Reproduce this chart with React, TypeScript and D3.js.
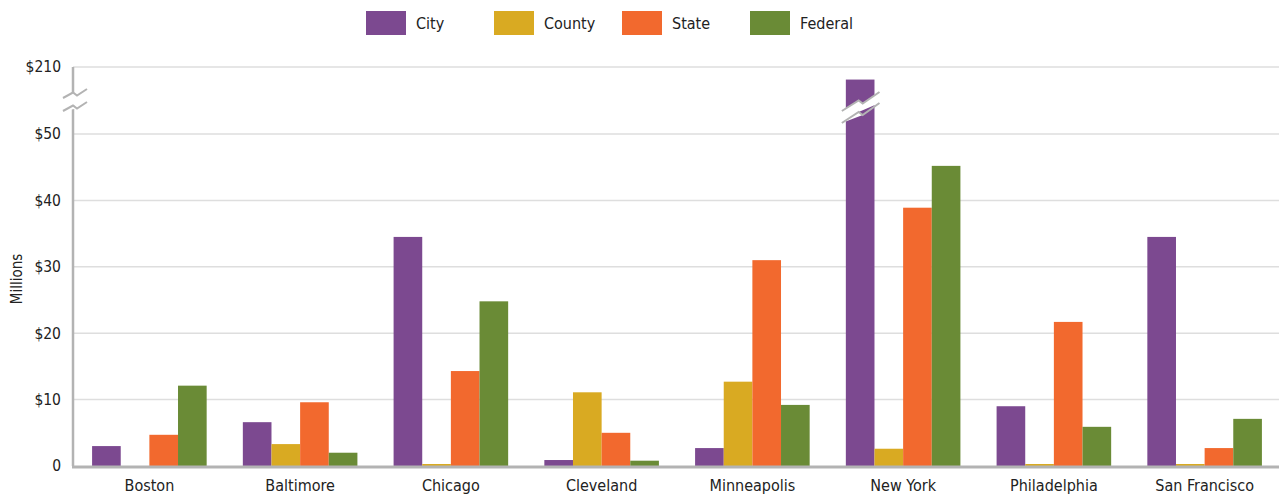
import React from "react";
import * as d3 from "d3";

const cities = ["Boston", "Baltimore", "Chicago", "Cleveland", "Minneapolis", "New York", "Philadelphia", "San Francisco"];
const seriesNames = ["City", "County", "State", "Federal"];
const colors = ["#7c4990", "#d9aa22", "#f2692e", "#6a8b36"];
const cityVals = [3.0, 6.6, 34.5, 0.9, 2.7, 180, 9.0, 34.5];
const countyVals = [0, 3.3, 0.3, 11.1, 12.7, 2.6, 0.3, 0.3];
const stateVals = [4.7, 9.6, 14.3, 5.0, 31.0, 38.9, 21.7, 2.7];
const federalVals = [12.1, 2.0, 24.8, 0.8, 9.2, 45.2, 5.9, 7.1];
const tickValues = [0, 10, 20, 30, 40, 50, 210];
const tickLabels = ["0", "$10", "$20", "$30", "$40", "$50", "$210"];

const FONT = "'Liberation Sans Narrow', 'DejaVu Sans Condensed', 'Roboto', sans-serif";

export default function App() {
  const W = 1279, H = 495;
  const left = 73, right = 1280, base = 466;
  const x = d3.scaleBand<string>().domain(cities).range([left + 1, right]).paddingInner(0.24).paddingOuter(0.12);
  const xs = d3.scaleBand<string>().domain(seriesNames).range([0, x.bandwidth()]);
  const y = d3.scaleLinear().domain([0, 50, 210]).range([base, 134, 67]);
  const series = [cityVals, countyVals, stateVals, federalVals];

  const zig = (x0: number, y0: number, x1: number, y1: number) => {
    const mx = (x0 + x1) / 2, my = (y0 + y1) / 2;
    return `M${x0},${y0} L${mx - 2},${my - 1} L${mx + 2},${my + 2} L${x1},${y1}`;
  };

  const nyX = (x("New York") ?? 0) + (xs("City") ?? 0);
  const nyW = xs.bandwidth();

  return (
    <svg width={W} height={H} style={{ position: "absolute", left: 0, top: 0, fontFamily: FONT }}>
      <rect width={W} height={H} fill="#fff" />
      {seriesNames.map((s, i) => (
        <g key={s} transform={`translate(${366 + i * 128},11)`}>
          <rect width={40} height={24} fill={colors[i]} />
          <text x={50} y={18} fontSize={16} fill="#222">{s}</text>
        </g>
      ))}
      {tickValues.map((t, i) => (
        <g key={t}>
          {t !== 0 && <line x1={left} x2={right} y1={y(t)} y2={y(t)} stroke="#dedede" strokeWidth={1.5} />}
          <text x={61} y={y(t)} dy="0.35em" textAnchor="end" fontSize={15.5} fill="#222">{tickLabels[i]}</text>
        </g>
      ))}
      <text transform={`translate(22,${279}) rotate(-90)`} textAnchor="middle" fontSize={15} fill="#222">Millions</text>
      {cities.map((c, ci) => (
        <g key={c}>
          {series.map((vals, si) => (
            <rect key={si} x={(x(c) ?? 0) + (xs(seriesNames[si]) ?? 0)} width={xs.bandwidth()} y={y(vals[ci])} height={base - y(vals[ci])} fill={colors[si]} />
          ))}
          <text x={(x(c) ?? 0) + x.bandwidth() / 2} y={491} textAnchor="middle" fontSize={16} fill="#222">{c}</text>
        </g>
      ))}
      <line x1={left} x2={left} y1={67} y2={base} stroke="#b3b3b3" strokeWidth={2.5} />
      <line x1={left - 1} x2={right} y1={base + 1} y2={base + 1} stroke="#b3b3b3" strokeWidth={3} />
      <path d={`${zig(63, 98, 87, 89)} L87,102 ${zig(87, 102, 63, 111).replace("M", "L")} Z`} fill="#fff" />
      <path d={zig(63, 98, 87, 89)} stroke="#b3b3b3" strokeWidth={2} fill="none" />
      <path d={zig(63, 111, 87, 102)} stroke="#b3b3b3" strokeWidth={2} fill="none" />
      <path d={`${zig(nyX - 4, 111, nyX + nyW + 5, 92)} L${nyX + nyW + 5},103 ${zig(nyX + nyW + 5, 103, nyX - 4, 123).replace("M", "L")} Z`} fill="#fff" />
      <path d={zig(nyX - 4, 111, nyX + nyW + 5, 92)} stroke="#b3b3b3" strokeWidth={2} fill="none" />
      <path d={zig(nyX - 4, 123, nyX + nyW + 5, 103)} stroke="#b3b3b3" strokeWidth={2} fill="none" />
    </svg>
  );
}
